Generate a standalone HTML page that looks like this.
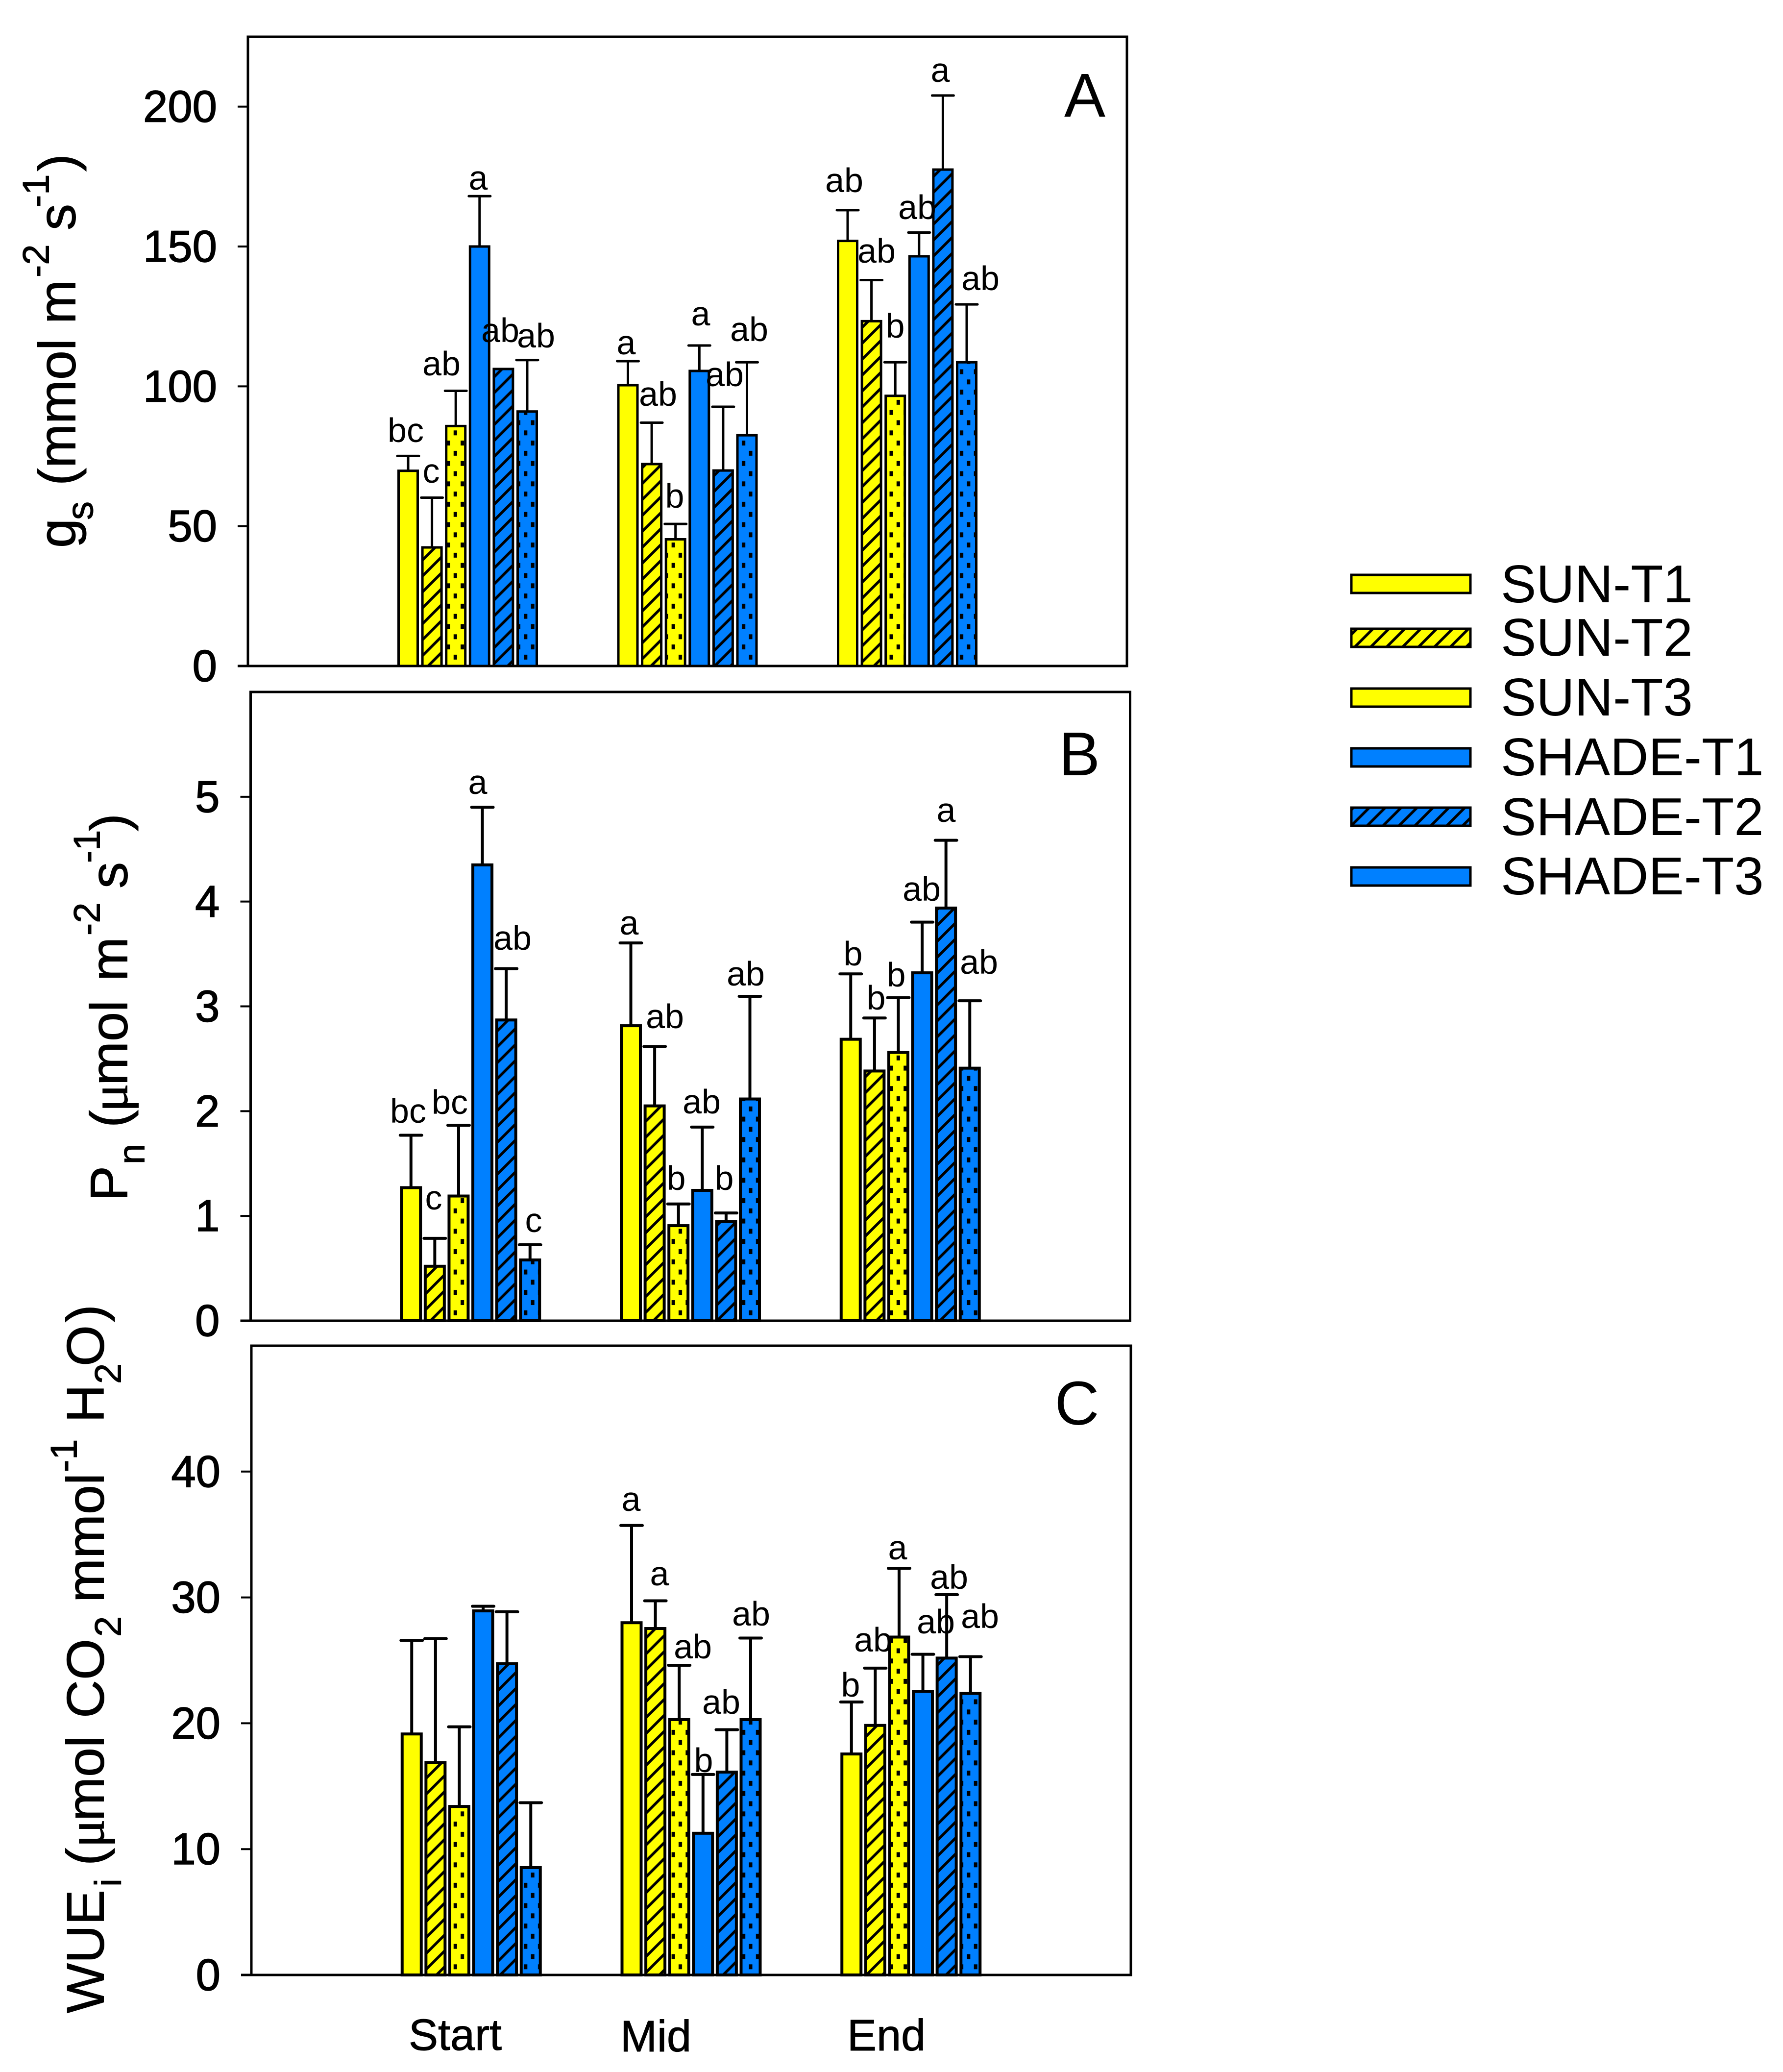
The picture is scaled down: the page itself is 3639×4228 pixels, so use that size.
<!DOCTYPE html>
<html lang="en">
<head>
<meta charset="utf-8">
<title>Stomatal conductance, photosynthesis and water-use efficiency</title>
<style>
html,body{margin:0;padding:0;background:#fff;}
svg{display:block;}
text{font-family:"Liberation Sans",sans-serif;fill:#000;}
.letter{font-size:70px;text-anchor:middle;}
.panel-tag{font-size:126px;text-anchor:middle;}
.title{font-size:108px;stroke:#000;stroke-width:1;}
.mini{font-size:76px;}
.cat{font-size:90px;stroke:#000;stroke-width:1;}
.leg{font-size:108.5px;}
.tick-label{font-size:90.5px;text-anchor:end;stroke:#000;stroke-width:1.5;}
.frame{fill:none;stroke:#000;stroke-width:5;}
.sw{stroke:#000;stroke-width:5;}
</style>
</head>
<body>
<svg id="chart" xmlns="http://www.w3.org/2000/svg" width="3639" height="4228" viewBox="0 0 3639 4228">
<defs id="pattern-defs"></defs>
<rect width="3639" height="4228" fill="#fff"/>

<g id="panel-a-marks"></g>
<g id="panel-b-marks"></g>
<g id="panel-c-marks"></g>

<text class="panel-tag" x="2214" y="238">A</text>
<text class="panel-tag" x="2203" y="1582">B</text>
<text class="panel-tag" x="2198" y="2907">C</text>

<text class="title" transform="translate(153.4,1114) rotate(-90)"><tspan x="-4" y="0">g</tspan><tspan class="mini" x="53" y="36">s</tspan><tspan x="123" y="0">(mmol</tspan><tspan x="453" y="0">m</tspan><tspan class="mini" x="548" y="-54">-2</tspan><tspan x="644" y="0">s</tspan><tspan class="mini" x="691" y="-54">-1</tspan><tspan x="764" y="0">)</tspan></text>

<text class="title" transform="translate(259.5,2443) rotate(-90)"><tspan x="-8" y="0">P</tspan><tspan class="mini" x="67" y="35">n</tspan><tspan x="142" y="0">(</tspan><tspan x="174" y="0" style="font-family:'Liberation Serif',serif">μ</tspan><tspan x="228" y="0">mol</tspan><tspan x="441" y="0">m</tspan><tspan class="mini" x="534" y="-56">-2</tspan><tspan x="630" y="0">s</tspan><tspan class="mini" x="682" y="-56">-1</tspan><tspan x="747" y="0">)</tspan></text>

<text class="title" transform="translate(211.5,4108) rotate(-90)"><tspan x="0" y="0">WUE</tspan><tspan class="mini" x="258" y="35">i</tspan><tspan x="301" y="0">(</tspan><tspan x="338" y="0" style="font-family:'Liberation Serif',serif">μ</tspan><tspan x="392" y="0">mol</tspan><tspan x="602" y="0">CO</tspan><tspan class="mini" x="768" y="35">2</tspan><tspan x="838" y="0">mmol</tspan><tspan class="mini" x="1104" y="-55">-1</tspan><tspan x="1205" y="0">H</tspan><tspan class="mini" x="1284" y="35">2</tspan><tspan x="1320" y="0">O</tspan><tspan x="1410" y="0">)</tspan></text>

<text class="cat" x="834" y="4183">Start</text>
<text class="cat" x="1266" y="4186">Mid</text>
<text class="cat" x="1729" y="4184">End</text>

<g>
<text class="letter" x="828" y="902">bc</text><text class="letter" x="880" y="985">c</text><text class="letter" x="901" y="766">ab</text><text class="letter" x="976" y="387">a</text><text class="letter" x="1021" y="698">ab</text><text class="letter" x="1094" y="709">ab</text>
<text class="letter" x="1278" y="723">a</text><text class="letter" x="1343" y="828">ab</text><text class="letter" x="1377" y="1036">b</text><text class="letter" x="1430" y="664">a</text><text class="letter" x="1479" y="788">ab</text><text class="letter" x="1529" y="696">ab</text>
<text class="letter" x="1723" y="392">ab</text><text class="letter" x="1789" y="536">ab</text><text class="letter" x="1827" y="689">b</text><text class="letter" x="1872" y="447">ab</text><text class="letter" x="1919" y="167">a</text><text class="letter" x="2001" y="592">ab</text>
</g>
<g>
<text class="letter" x="833" y="2291">bc</text><text class="letter" x="885" y="2468">c</text><text class="letter" x="918" y="2273">bc</text><text class="letter" x="975" y="1620">a</text><text class="letter" x="1046" y="1938">ab</text><text class="letter" x="1089" y="2514">c</text>
<text class="letter" x="1284" y="1907">a</text><text class="letter" x="1357" y="2098">ab</text><text class="letter" x="1380" y="2428">b</text><text class="letter" x="1432" y="2272">ab</text><text class="letter" x="1478" y="2428">b</text><text class="letter" x="1522" y="2011">ab</text>
<text class="letter" x="1741" y="1970">b</text><text class="letter" x="1788" y="2060">b</text><text class="letter" x="1829" y="2013">b</text><text class="letter" x="1881" y="1838">ab</text><text class="letter" x="1931" y="1677">a</text><text class="letter" x="1998" y="1987">ab</text>
</g>
<g>
<text class="letter" x="1288" y="3083">a</text><text class="letter" x="1346" y="3235">a</text><text class="letter" x="1414" y="3384">ab</text><text class="letter" x="1436" y="3616">b</text><text class="letter" x="1472" y="3497">ab</text><text class="letter" x="1533" y="3317">ab</text>
<text class="letter" x="1736" y="3462">b</text><text class="letter" x="1782" y="3370">ab</text><text class="letter" x="1832" y="3182">a</text><text class="letter" x="1910" y="3333">ab</text><text class="letter" x="1937" y="3242">ab</text><text class="letter" x="2000" y="3322">ab</text>
</g>

<g>
<g><rect class="sw" x="2758" y="1173" width="243" height="37" fill="#ffff00"/><text class="leg" x="3063" y="1229">SUN-T1</text></g>
<g><rect class="sw" x="2758" y="1283" width="243" height="37" fill="url(#hatch-yellow-a)"/><text class="leg" x="3063" y="1338">SUN-T2</text></g>
<g><rect class="sw" x="2758" y="1405" width="243" height="37" fill="#ffff00"/><text class="leg" x="3063" y="1460">SUN-T3</text></g>
<g><rect class="sw" x="2758" y="1527" width="243" height="37" fill="#0080ff"/><text class="leg" x="3063" y="1582">SHADE-T1</text></g>
<g><rect class="sw" x="2758" y="1648" width="243" height="37" fill="url(#hatch-blue-a)"/><text class="leg" x="3063" y="1704">SHADE-T2</text></g>
<g><rect class="sw" x="2758" y="1770" width="243" height="37" fill="#0080ff"/><text class="leg" x="3063" y="1825">SHADE-T3</text></g>
</g>
</svg>

<script>
var categories = ['Start', 'Mid', 'End'];
var seriesNames = ['SUN-T1', 'SUN-T2', 'SUN-T3', 'SHADE-T1', 'SHADE-T2', 'SHADE-T3'];

var gsStart = [69.8, 42.4, 85.8, 150, 106.2, 91];
var gsMid = [100.4, 72.2, 45.3, 105.5, 69.9, 82.5];
var gsEnd = [152, 123.3, 96.6, 146.5, 177.5, 108.6];
var gsStartUpper = [75.1, 60.2, 98.4, 168, null, 109.4];
var gsMidUpper = [109, 87, 50.8, 114.6, 92.7, 108.6];
var gsEndUpper = [163, 138, 108.6, 155, 204, 129.3];
var gsTicks = [0, 50, 100, 150, 200];

var pnStart = [1.27, 0.52, 1.19, 4.35, 2.87, 0.58];
var pnMid = [2.815, 2.05, 0.907, 1.244, 0.946, 2.116];
var pnEnd = [2.686, 2.383, 2.56, 3.32, 3.938, 2.41];
var pnStartUpper = [1.77, 0.786, 1.865, 4.9, 3.36, 0.725];
var pnMidUpper = [3.605, 2.617, 1.114, 1.848, 1.028, 3.096];
var pnEndUpper = [3.31, 2.889, 3.083, 3.804, 4.585, 3.053];
var pnTicks = [0, 1, 2, 3, 4, 5];

var wueStart = [19.15, 16.88, 13.39, 28.93, 24.73, 8.53];
var wueMid = [27.99, 27.53, 20.29, 11.26, 16.12, 20.29];
var wueEnd = [17.56, 19.83, 26.85, 22.53, 25.18, 22.37];
var wueStartUpper = [26.58, 26.73, 19.72, 29.3, 28.86, 13.69];
var wueMidUpper = [35.72, 29.73, 24.61, 15.93, 19.49, 26.77];
var wueEndUpper = [21.69, 24.38, 32.31, 25.48, 30.22, 25.29];
var wueTicks = [0, 10, 20, 30, 40];

var SVG_NS = 'http://www.w3.org/2000/svg';
var YELLOW = '#ffff00';
var BLUE = '#0080ff';
var BAR_PITCH = 48.6;
var BAR_WIDTH = 39;
var CAP_WIDTH = 44;

function make(tag, attrs, parent) {
  var el = document.createElementNS(SVG_NS, tag);
  for (var k in attrs) { el.setAttribute(k, attrs[k]); }
  parent.appendChild(el);
  return el;
}

function addHatch(id, color, shift) {
  var defs = document.getElementById('pattern-defs');
  var pat = make('pattern', {id: id, patternUnits: 'userSpaceOnUse', width: 32.5, height: 32.5, patternTransform: 'translate(' + shift + ',0)'}, defs);
  make('rect', {width: 32.5, height: 32.5, fill: color}, pat);
  make('path', {d: 'M-4 36.5L36.5 -4M-4 4L4 -4M28.5 36.5L36.5 28.5', stroke: '#000', 'stroke-width': 5.5, fill: 'none'}, pat);
}

function addDots(id, color, shift) {
  var defs = document.getElementById('pattern-defs');
  var pat = make('pattern', {id: id, patternUnits: 'userSpaceOnUse', width: 28.7, height: 41.6, patternTransform: 'translate(3.7,' + shift + ')'}, defs);
  make('rect', {width: 28.7, height: 41.6, fill: color}, pat);
  make('rect', {x: 3.7, y: 5.4, width: 7, height: 10, fill: '#000'}, pat);
  make('rect', {x: 18.05, y: 26.2, width: 7, height: 10, fill: '#000'}, pat);
}

addHatch('hatch-yellow-a', YELLOW, 22.7);
addHatch('hatch-blue-a', BLUE, 22.7);
addHatch('hatch-yellow-b', YELLOW, 31);
addHatch('hatch-blue-b', BLUE, 31);
addHatch('hatch-yellow-c', YELLOW, 13.3);
addHatch('hatch-blue-c', BLUE, 13.3);
addDots('dots-yellow-a', YELLOW, -0.7);
addDots('dots-blue-a', BLUE, -0.7);
addDots('dots-yellow-b', YELLOW, 6);
addDots('dots-blue-b', BLUE, 6);
addDots('dots-yellow-c', YELLOW, 9.3);
addDots('dots-blue-c', BLUE, 9.3);

function drawPanel(p) {
  var root = document.getElementById(p.id + '-marks');
  var fills = [YELLOW, 'url(#hatch-yellow-' + p.key + ')', 'url(#dots-yellow-' + p.key + ')', BLUE, 'url(#hatch-blue-' + p.key + ')', 'url(#dots-blue-' + p.key + ')'];
  function yScale(v) { return p.bottom - (v / p.yMax) * (p.bottom - p.top); }
  function xScale(groupIndex, seriesIndex) {
    return p.left + p.width * (groupIndex + 1) / 4 + (seriesIndex - 2.5) * BAR_PITCH;
  }

  var frame = make('rect', {x: p.left, y: p.top, width: p.width, height: p.bottom - p.top, 'class': 'frame'}, root);
  
  

  p.ticks.forEach(function (t) {
    var y = yScale(t);
    var tick = make('line', {x1: p.left - 21, x2: p.left, y1: y, y2: y, stroke: '#000', 'stroke-width': 4}, root);
    
    
    var label = make('text', {x: p.left - 63, y: y + 31, 'class': 'tick-label'}, root);
    
    
    label.textContent = String(t);
  });

  categories.forEach(function (cat, g) {
    seriesNames.forEach(function (name, s) {
      var cx = xScale(g, s);
      var v = p.means[g][s];
      var u = p.upper[g][s];
      if (u !== null) {
        var stem = make('line', {x1: cx, x2: cx, y1: yScale(v), y2: yScale(u), stroke: '#000', 'stroke-width': p.stroke}, root);
        
        
        var cap = make('line', {x1: cx - CAP_WIDTH / 2, x2: cx + CAP_WIDTH / 2, y1: yScale(u), y2: yScale(u), stroke: '#000', 'stroke-width': p.stroke, 'stroke-linecap': 'round'}, root);
        
        
      }
      var bar = make('rect', {x: cx - BAR_WIDTH / 2, y: yScale(v), width: BAR_WIDTH, height: p.bottom - yScale(v), fill: fills[s], stroke: '#000', 'stroke-width': p.stroke}, root);
      
      
    });
  });

  var base = make('line', {x1: p.left - 21, x2: p.left + p.width, y1: p.bottom, y2: p.bottom, stroke: '#000', 'stroke-width': 5}, root);
  
  
}

drawPanel({id: 'panel-a', key: 'a', stroke: 5, left: 506, width: 1794, top: 75, bottom: 1359, yMax: 225, ticks: gsTicks,
  means: [gsStart, gsMid, gsEnd], upper: [gsStartUpper, gsMidUpper, gsEndUpper]});
drawPanel({id: 'panel-b', key: 'b', stroke: 6, left: 511.5, width: 1795, top: 1412, bottom: 2695, yMax: 6, ticks: pnTicks,
  means: [pnStart, pnMid, pnEnd], upper: [pnStartUpper, pnMidUpper, pnEndUpper]});
drawPanel({id: 'panel-c', key: 'c', stroke: 6, left: 513, width: 1795, top: 2746, bottom: 4030, yMax: 50, ticks: wueTicks,
  means: [wueStart, wueMid, wueEnd], upper: [wueStartUpper, wueMidUpper, wueEndUpper]});
</script>
</body>
</html>
